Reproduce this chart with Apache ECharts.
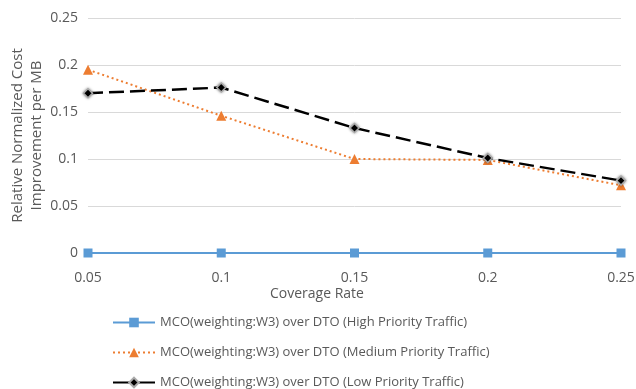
<!DOCTYPE html>
<html>
<head>
<meta charset="utf-8">
<script src="https://cdn.jsdelivr.net/npm/echarts@6/dist/echarts.min.js"></script>
<style>html,body{margin:0;padding:0;background:#fff}#c{width:636px;height:389px}</style>
</head>
<body>
<div id="c"></div>
<script>
// Coverage rates on the x axis
const coverageRates = ['0.05', '0.1', '0.15', '0.2', '0.25'];
// Relative normalized cost improvement per MB
const highPriority = [0, 0, 0, 0, 0];
const mediumPriority = [0.195, 0.146, 0.1, 0.099, 0.072];
const lowPriority = [0.17, 0.176, 0.133, 0.101, 0.077];
const seriesNames = [
  'MCO(weighting:W3) over DTO (High Priority Traffic)',
  'MCO(weighting:W3) over DTO (Medium Priority Traffic)',
  'MCO(weighting:W3) over DTO (Low Priority Traffic)'
];

const textColor = '#595959';
const font = 'Open Sans, Liberation Sans, sans-serif';
const chart = echarts.init(document.getElementById('c'));
chart.setOption({
  animation: false,
  textStyle: { fontFamily: font },
  grid: { left: 88, right: 15, top: 18, bottom: 136, outerBoundsMode: 'none', containLabel: false },
  xAxis: {
    type: 'category',
    data: coverageRates,
    boundaryGap: false,
    axisLine: { lineStyle: { color: '#d9d9d9' } },
    axisTick: { show: false },
    axisLabel: { color: textColor, fontSize: 14, margin: 18 }
  },
  yAxis: {
    type: 'value',
    min: 0, max: 0.25, interval: 0.05,
    axisLine: { show: false },
    axisTick: { show: false },
    splitLine: { lineStyle: { color: '#d9d9d9' } },
    axisLabel: { color: textColor, fontSize: 14, margin: 10 },
    name: 'Relative Normalized Cost\nImprovement per MB',
    nameLocation: 'middle',
    nameRotate: 90,
    nameGap: 42,
    nameMoveOverlap: false,
    nameTextStyle: { color: textColor, fontSize: 15, lineHeight: 19 }
  },
  graphic: [{
    type: 'text', left: 270, top: 287,
    style: { text: 'Coverage Rate', fill: textColor, font: '14px ' + font }
  }],
  legend: {
    orient: 'vertical', left: 107, top: 311, itemGap: 17, height: 100,
    itemWidth: 42, itemHeight: 12,
    textStyle: { color: textColor, fontSize: 13 },
    data: [
      { name: seriesNames[0] },
      { name: seriesNames[1] },
      { name: seriesNames[2], lineStyle: { type: 'solid' } }
    ]
  },
  series: [
    {
      name: seriesNames[0], type: 'line', data: highPriority,
      symbol: 'rect', symbolSize: 9,
      lineStyle: { color: '#5B9BD5', width: 2 },
      itemStyle: { color: '#5B9BD5' }
    },
    {
      name: seriesNames[1], type: 'line', data: mediumPriority,
      symbol: 'triangle', symbolSize: 10,
      lineStyle: { color: '#ED7D31', width: 2, type: [2, 3] },
      itemStyle: { color: '#ED7D31' }
    },
    {
      name: seriesNames[2], type: 'line', data: lowPriority,
      symbol: 'diamond', symbolSize: 9,
      lineStyle: { color: '#000', width: 2.5, type: [15, 6] },
      itemStyle: { color: '#000', borderColor: '#aaa', borderWidth: 1.5, shadowColor: 'rgba(0,0,0,0.4)', shadowBlur: 3 }
    }
  ]
});
</script>
</body>
</html>
